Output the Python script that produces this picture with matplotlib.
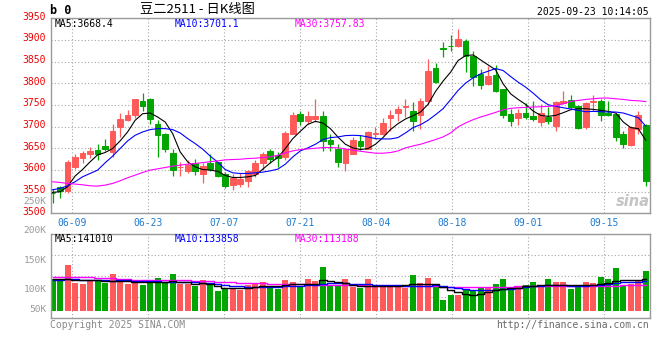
import matplotlib
matplotlib.use("Agg")
import matplotlib.pyplot as plt
import matplotlib.transforms as mtransforms
import numpy as np

# daily candles, 豆二2511
opens = [3547, 3560, 3552, 3607, 3628, 3637, 3645, 3655, 3642, 3699,
         3715, 3728, 3760, 3763, 3707, 3682, 3638, 3606, 3597, 3616,
         3590, 3616, 3618, 3590, 3566, 3568, 3575, 3590, 3616, 3643,
         3634, 3630, 3684, 3728, 3714, 3717, 3724, 3668, 3649, 3615,
         3638, 3666, 3649, 3682, 3682, 3720, 3731, 3745, 3737, 3726,
         3760, 3835, 3881, 3886, 3887, 3898, 3862, 3822, 3799, 3820,
         3786, 3730, 3720, 3732, 3725, 3711, 3722, 3701, 3754, 3762,
         3747, 3699, 3756, 3760, 3731, 3730, 3682, 3657, 3695, 3704]
highs = [3557, 3563, 3622, 3636, 3643, 3652, 3661, 3672, 3705, 3731,
         3739, 3764, 3777, 3765, 3716, 3685, 3649, 3619, 3622, 3626,
         3615, 3638, 3619, 3596, 3590, 3592, 3601, 3622, 3642, 3649,
         3642, 3691, 3734, 3737, 3737, 3763, 3737, 3684, 3659, 3649,
         3675, 3680, 3691, 3699, 3720, 3739, 3747, 3764, 3757, 3767,
         3856, 3846, 3895, 3912, 3925, 3902, 3875, 3833, 3839, 3842,
         3787, 3741, 3741, 3754, 3760, 3753, 3745, 3760, 3783, 3772,
         3749, 3757, 3772, 3764, 3760, 3731, 3691, 3701, 3737, 3707]
lows = [3523, 3536, 3547, 3602, 3616, 3628, 3624, 3643, 3630, 3676,
        3714, 3720, 3737, 3707, 3630, 3642, 3586, 3586, 3593, 3589,
        3570, 3597, 3584, 3559, 3554, 3561, 3561, 3584, 3600, 3615,
        3606, 3622, 3682, 3704, 3707, 3711, 3643, 3643, 3607, 3598,
        3637, 3645, 3648, 3672, 3680, 3689, 3714, 3722, 3691, 3695,
        3753, 3800, 3860, 3874, 3883, 3826, 3793, 3786, 3795, 3781,
        3720, 3701, 3703, 3717, 3714, 3701, 3707, 3691, 3753, 3741,
        3695, 3695, 3737, 3713, 3724, 3667, 3651, 3655, 3684, 3563]
closes = [3546, 3552, 3619, 3630, 3638, 3643, 3637, 3649, 3689, 3717,
          3727, 3763, 3747, 3717, 3680, 3649, 3601, 3607, 3612, 3598,
          3610, 3602, 3587, 3563, 3582, 3579, 3597, 3617, 3636, 3626,
          3628, 3685, 3726, 3714, 3724, 3724, 3668, 3659, 3619, 3648,
          3670, 3655, 3688, 3686, 3708, 3728, 3741, 3748, 3714, 3760,
          3829, 3804, 3880, 3885, 3902, 3862, 3814, 3796, 3818, 3783,
          3728, 3714, 3732, 3722, 3718, 3732, 3712, 3756, 3760, 3745,
          3697, 3755, 3758, 3727, 3726, 3676, 3659, 3699, 3726, 3574]

ma5 = [3548.2, 3549.8, 3561.3, 3585.8, 3601.1, 3618.7, 3634.8, 3640.2, 3649.4, 3667.0,
       3687.7, 3714.5, 3729.8, 3731.4, 3722.2, 3710.7, 3683.9, 3641.7, 3618.7, 3607.2,
       3601.0, 3599.6, 3597.0, 3587.3, 3582.7, 3582.7, 3584.2, 3587.3, 3601.9, 3616.4,
       3628.7, 3649.4, 3672.4, 3689.2, 3705.3, 3712.2, 3708.4, 3695.4, 3676.2, 3659.3,
       3650.9, 3647.1, 3649.4, 3659.3, 3674.7, 3693.1, 3706.8, 3717.6, 3725.2, 3733.7,
       3751.3, 3781.2, 3804.9, 3825.6, 3852.4, 3863.9, 3865.5, 3854.0, 3842.5, 3831.0,
       3798.8, 3775.8, 3762.8, 3751.3, 3736.0, 3726.0, 3723.7, 3726.0, 3732.1, 3739.0,
       3741.3, 3741.3, 3739.8, 3737.5, 3735.2, 3731.4, 3710.7, 3697.7, 3695.4, 3668.4]
ma10 = [3554.4, 3557.4, 3563.5, 3572.7, 3584.2, 3591.9, 3599.6, 3616.4, 3631.8, 3649.4,
        3667.0, 3680.0, 3687.7, 3693.1, 3695.4, 3695.4, 3693.1, 3685.4, 3672.4, 3660.9,
        3648.0, 3632.0, 3618.0, 3601.1, 3593.4, 3591.9, 3591.9, 3593.4, 3595.0, 3598.0,
        3601.9, 3613.4, 3630.2, 3644.0, 3650.9, 3659.3, 3670.1, 3674.7, 3676.2, 3679.3,
        3680.0, 3679.3, 3676.2, 3672.4, 3671.6, 3671.6, 3674.7, 3685.4, 3697.7, 3704.5,
        3714.5, 3727.5, 3741.3, 3762.0, 3783.5, 3800.3, 3812.6, 3821.8, 3827.9, 3834.1,
        3829.5, 3815.7, 3802.6, 3791.1, 3777.3, 3762.0, 3750.5, 3746.7, 3743.6, 3740.6,
        3737.5, 3734.4, 3735.2, 3734.4, 3733.7, 3733.7, 3731.4, 3726.0, 3720.6, 3701.1]
ma30 = [3572.7, 3571.2, 3568.9, 3567.4, 3565.8, 3563.5, 3562.8, 3565.1, 3568.9, 3575.0,
        3582.0, 3588.1, 3594.2, 3599.6, 3602.6, 3605.7, 3608.8, 3611.1, 3613.4, 3614.9,
        3617.0, 3619.0, 3621.0, 3623.3, 3624.1, 3624.8, 3626.4, 3627.1, 3628.7, 3630.2,
        3634.0, 3639.4, 3644.0, 3647.1, 3648.6, 3650.1, 3651.7, 3651.7, 3650.9, 3648.6,
        3645.5, 3643.2, 3640.9, 3638.7, 3638.7, 3640.2, 3644.0, 3650.9, 3655.5, 3659.3,
        3664.7, 3670.1, 3676.2, 3685.4, 3699.2, 3708.4, 3716.0, 3722.2, 3727.5, 3732.9,
        3739.0, 3742.1, 3743.6, 3744.4, 3745.2, 3745.9, 3746.7, 3748.2, 3752.8, 3758.2,
        3760.5, 3762.8, 3764.3, 3765.9, 3765.9, 3764.3, 3762.8, 3760.5, 3759.7, 3757.8]

volumes = [139000, 130500, 201000, 123000, 117000, 138000, 130500, 123000, 161000, 139000,
           117000, 127600, 113000, 135000, 145000, 127600, 161000, 117000, 120000, 108500,
           135000, 113000, 86500, 95000, 98000, 94000, 113000, 120000, 127600, 102700,
           98000, 135000, 127600, 108500, 142000, 130500, 193600, 113000, 113000, 139000,
           105600, 101000, 139000, 113000, 113000, 108500, 108500, 101000, 157000, 123000,
           145000, 113000, 50000, 69000, 69000, 94000, 94000, 102700, 102700, 117000,
           139000, 101000, 108500, 113000, 127600, 113000, 139000, 127600, 127600, 95000,
           113000, 127600, 123000, 149600, 139000, 189000, 110000, 117000, 130500, 176000]
vol_ma5 = [140800, 140800, 142300, 137900, 134900, 134900, 134900, 132000, 130500, 133500,
           132000, 129100, 126100, 127600, 129100, 127600, 130500, 129100, 126100, 120300,
           123200, 117300, 108500, 102700, 101200, 99700, 102700, 105600, 110000, 108500,
           110000, 112900, 117300, 117300, 120300, 120300, 136000, 133500, 127600, 123200,
           112900, 108500, 108500, 108500, 108500, 108500, 111500, 112900, 117300, 120300,
           120300, 117300, 105600, 90900, 82100, 76300, 68900, 76300, 83600, 93900,
           98300, 101200, 102700, 108500, 111500, 114400, 115900, 115900, 115900, 115900,
           115900, 115900, 115900, 117300, 123200, 130500, 134900, 134900, 134900, 141010]
vol_ma10 = [137900, 137900, 139300, 139300, 137900, 137900, 137900, 134900, 133500, 134900,
            134900, 133500, 132000, 130500, 130500, 129100, 129100, 129100, 127600, 126100,
            124700, 121700, 117300, 112900, 110000, 108500, 107100, 105600, 105600, 105600,
            105600, 108500, 110000, 111500, 112900, 115900, 120300, 124700, 123200, 121700,
            120300, 118800, 117300, 115900, 114400, 112900, 112900, 111500, 111500, 110000,
            111500, 112900, 110000, 105600, 99700, 95300, 93900, 93900, 93900, 93900,
            95300, 98300, 101200, 105600, 108500, 111500, 112900, 112900, 112900, 111500,
            110000, 111500, 112900, 114400, 118800, 123200, 126100, 127600, 129100, 133858]
vol_ma30 = [149000, 150500, 151500, 150500, 149000, 147500, 146000, 144500, 143000, 141500,
            140000, 138500, 137000, 136500, 136000, 135500, 135000, 135000, 134900, 133500,
            132000, 130500, 129100, 127600, 126100, 124700, 123200, 123200, 121700, 120300,
            120300, 120300, 118800, 117300, 117300, 115900, 115900, 115900, 114400, 114400,
            112900, 112900, 111500, 111500, 110000, 110000, 108500, 108500, 108500, 108500,
            108500, 108500, 107100, 105600, 105600, 105600, 105600, 105600, 105600, 107100,
            107100, 107100, 108500, 108500, 108500, 108500, 108500, 110000, 110000, 110000,
            110000, 110000, 111500, 111500, 111500, 111500, 112900, 112900, 112900, 113188]

date_labels = ["06-09", "06-23", "07-07", "07-21", "08-04", "08-18", "09-01", "09-15"]
vol_labels = ["250K", "200K", "150K", "100K", "50K"]

RED = "#ff5a5a"
GREEN = "#00a500"
GRID = "#a8a8a8"
FRAME = "#9a9a9a"
MONO = "DejaVu Sans Mono"
CJK = ["Noto Sans CJK SC", "DejaVu Sans"]

W, H = 660, 360


def fx(px):
    return px / W


def fy(py):
    return 1 - py / H


x = np.arange(len(closes))
o = np.array(opens, dtype=float)
c = np.array(closes, dtype=float)
colors = [RED if cc >= oo else GREEN for oo, cc in zip(opens, closes)]
ticks_x = 2.64 + 10.12 * np.arange(len(date_labels))

fig = plt.figure(figsize=(6.6, 3.6), dpi=100)
ax = fig.add_axes([fx(50.7), fy(213.3), fx(650 - 50.7), (213.3 - 18.3) / H])
axv = fig.add_axes([fx(50.7), fy(318), fx(650 - 50.7), (318 - 234.3) / H], sharex=ax)

# price panel
ax.vlines(x, lows, highs, colors=colors, lw=0.9, zorder=2)
ax.bar(x, np.abs(c - o), bottom=np.minimum(o, c), width=0.76, color=colors,
       edgecolor=colors, lw=0.7, zorder=3)
ax.plot(x, ma5, color="black", lw=0.8, zorder=4)
ax.plot(x, ma10, color="#0000ff", lw=0.8, zorder=4)
ax.plot(x, ma30, color="#ff00ff", lw=0.8, zorder=4)

ax.set_xlim(-0.24, 79.56)
ax.set_ylim(3500, 3950)
ax.set_yticks(range(3500, 3951, 50))
ax.set_xticks(ticks_x)
ax.set_xticklabels(date_labels)
ax.grid(True, color=GRID, ls=(0, (1, 2)), lw=0.8, zorder=0)
ax.tick_params(axis="y", length=0, pad=3.5, labelsize=7, labelcolor="#ee0000")
ax.tick_params(axis="x", length=0, pad=3.5, labelsize=7, labelcolor="#1f7bd0",
               labelbottom=True)
# price labels sit a little above their grid line
lift = mtransforms.ScaledTranslation(0, 2 / 72, fig.dpi_scale_trans)
for lab in ax.get_yticklabels():
    lab.set_family(MONO)
    lab.set_transform(lab.get_transform() + lift)
for lab in ax.get_xticklabels():
    lab.set_family(MONO)
for s in ax.spines.values():
    s.set_color(FRAME)
    s.set_linewidth(1.0)

# volume panel
axv.bar(x, volumes, width=0.8, color=colors, lw=0, zorder=2)
axv.plot(x, vol_ma30, color="#ff00ff", lw=1.0, drawstyle="steps-mid", zorder=3)
axv.plot(x, vol_ma10, color="#0000ff", lw=1.0, drawstyle="steps-mid", zorder=3)
axv.plot(x, vol_ma5, color="black", lw=1.0, drawstyle="steps-mid", zorder=3)
axv.set_ylim(-31000, 337500)
axv.set_yticks(np.linspace(-31000, 337500, 5))
axv.grid(True, color=GRID, ls=(0, (1, 2)), lw=0.8, zorder=0)
axv.tick_params(length=0, labelleft=False, labelbottom=False)
for s in axv.spines.values():
    s.set_color(FRAME)
    s.set_linewidth(1.0)

# header texts
fig.text(fx(50), fy(11), "b 0", fontsize=8.5, fontweight="bold", family=MONO,
         va="center", ha="left")
fig.text(fx(140), fy(10), "豆二2511 - 日K线图", fontsize=9.5, family=CJK,
         va="center", ha="left")
fig.text(fx(649), fy(12), "2025-09-23 10:14:05", fontsize=7, family=MONO,
         va="center", ha="right")

ma_pos = [55, 175, 295]
ma_colors = ["black", "#0000ff", "#ff00ff"]
price_ma_text = ["MA5:%.1f" % ma5[-1], "MA10:%.1f" % ma10[-1], "MA30:%.2f" % 3757.83]
vol_ma_text = ["MA5:%d" % vol_ma5[-1], "MA10:%d" % vol_ma10[-1], "MA30:%d" % vol_ma30[-1]]
for px, col, t1, t2 in zip(ma_pos, ma_colors, price_ma_text, vol_ma_text):
    fig.text(fx(px), fy(24), t1, color=col, fontsize=7, family=MONO, va="center")
    fig.text(fx(px), fy(238.5), t2, color=col, fontsize=7, family=MONO, va="center")

for py, lab in zip([201.5, 230.5, 260.5, 290, 310], vol_labels):
    fig.text(fx(46.5), fy(py), lab, color="#9a9a9a", fontsize=6.8, family=MONO,
             va="center", ha="right")

fig.text(fx(50), fy(325), "Copyright 2025 SINA.COM", color="#8a8a8a",
         fontsize=7, family=MONO, va="center", ha="left")
fig.text(fx(649), fy(325), "http://finance.sina.com.cn", color="#6a6a6a",
         fontsize=7, family=MONO, va="center", ha="right")
fig.text(fx(633), fy(201), "sina", color="#c4c4c4", fontsize=10.5,
         fontweight="bold", style="italic", va="center", ha="center")

fig.savefig("out.png", dpi=100)
